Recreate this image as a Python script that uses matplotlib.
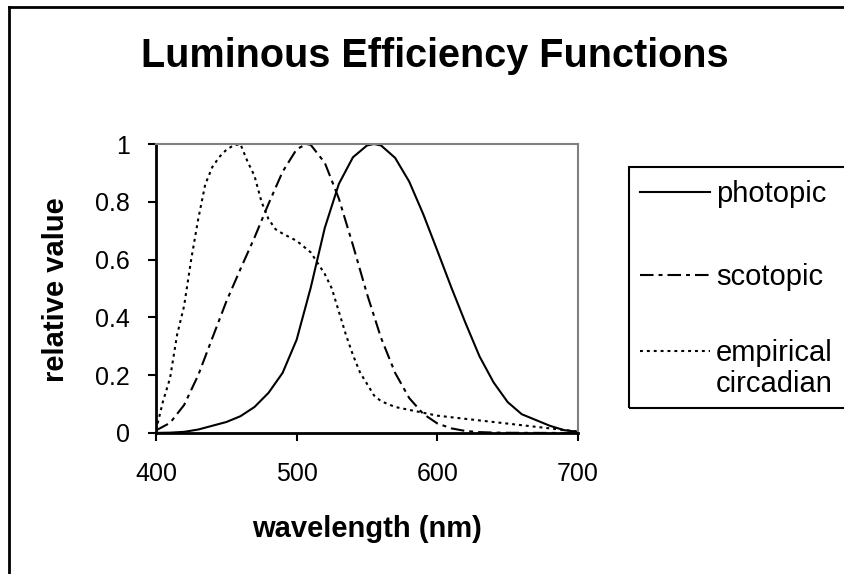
import matplotlib
matplotlib.use("Agg")
import matplotlib.pyplot as plt
from matplotlib.lines import Line2D
from matplotlib.patches import Rectangle

plt.rcParams['font.family'] = ['Liberation Sans', 'DejaVu Sans']

# photopic (CIE V(lambda))
photopic_nm = [400, 410, 420, 430, 440, 450, 460, 470, 480, 490, 500, 510, 520, 530,
               540, 550, 555, 560, 570, 580, 590, 600, 610, 620, 630, 640, 650, 660,
               670, 680, 690, 700]
photopic_val = [0.0004, 0.0012, 0.004, 0.012, 0.025, 0.038, 0.058, 0.09, 0.139, 0.208,
                0.323, 0.503, 0.71, 0.862, 0.954, 0.995, 1.0, 0.995, 0.952, 0.87,
                0.757, 0.631, 0.503, 0.381, 0.265, 0.175, 0.107, 0.065, 0.045, 0.025,
                0.01, 0.004]

# scotopic (CIE V'(lambda))
scotopic_nm = [400, 410, 420, 430, 440, 450, 460, 470, 480, 490, 500, 507, 510, 520,
               530, 540, 550, 560, 570, 580, 590, 600, 610, 620, 630, 640, 650, 700]
scotopic_val = [0.009, 0.035, 0.097, 0.2, 0.328, 0.455, 0.567, 0.676, 0.793, 0.904,
                0.982, 1.0, 0.997, 0.935, 0.811, 0.65, 0.481, 0.329, 0.208, 0.121,
                0.066, 0.033, 0.016, 0.007, 0.003, 0.0015, 0.0007, 0.0]

# empirical circadian
circ_nm = [400, 405, 410, 415, 420, 425, 430, 435, 440, 445, 450, 455, 460, 465, 470,
           475, 480, 485, 490, 500, 510, 520, 525, 530, 535, 540, 545, 550, 555, 560,
           570, 580, 590, 600, 700]
circ_val = [0.01, 0.11, 0.19, 0.34, 0.44, 0.6, 0.74, 0.86, 0.92, 0.955, 0.98, 0.995,
            1.0, 0.94, 0.89, 0.8, 0.74, 0.705, 0.69, 0.665, 0.625, 0.55, 0.5, 0.42,
            0.34, 0.27, 0.21, 0.17, 0.13, 0.11, 0.09, 0.08, 0.07, 0.06, 0.005]

x_ticks = [400, 500, 600, 700]
y_ticks = [0, 0.2, 0.4, 0.6, 0.8, 1.0]
y_tick_labels = ["0", "0.2", "0.4", "0.6", "0.8", "1"]
series_names = ["photopic", "scotopic", "empirical\ncircadian"]

W, H = 845, 574


def main():
    fig = plt.figure(figsize=(W / 100, H / 100), dpi=100)
    ax = fig.add_axes([156 / W, 1 - 433 / H, (578 - 156) / W, (433 - 144) / H])

    lw = 1.5
    styles = ["-", (0, (6.5, 2.4, 1.9, 2.4)), (0, (1.4, 1.9))]
    xs = [photopic_nm, scotopic_nm, circ_nm]
    ys = [photopic_val, scotopic_val, circ_val]
    for x, y, st in zip(xs, ys, styles):
        ax.plot(x, y, color="black", lw=lw, ls=st)

    ax.set_xlim(400, 700)
    ax.set_ylim(0, 1)
    ax.set_xticks(x_ticks)
    ax.set_yticks(y_ticks)
    ax.set_yticklabels(y_tick_labels)
    ax.tick_params(axis="both", direction="out", length=6, width=1.5,
                   labelsize=18, color="black")
    ax.tick_params(axis="y", pad=13)
    ax.tick_params(axis="x", pad=15)

    for s in ["left", "bottom"]:
        ax.spines[s].set_color("black")
        ax.spines[s].set_linewidth(2)
    for s in ["top", "right"]:
        ax.spines[s].set_color("#808080")
        ax.spines[s].set_linewidth(1.5)

    fig.text(435 / W, 1 - 56 / H, "Luminous Efficiency Functions", ha="center",
             va="center", fontsize=28.5, fontweight="bold")
    fig.text(367 / W, 1 - 529 / H, "wavelength (nm)", ha="center", va="center",
             fontsize=21, fontweight="bold")
    fig.text(56 / W, 1 - 290 / H, "relative value", ha="center", va="center",
             rotation=90, fontsize=21, fontweight="bold")

    # legend, drawn the way the spreadsheet lays it out
    fig.add_artist(Rectangle((629 / W, 1 - 408 / H), 300 / W, (408 - 167) / H,
                             transform=fig.transFigure, fill=False, lw=1.5,
                             edgecolor="black", clip_on=False))
    leg_y = [192, 275, 351]
    for name, st, yy in zip(series_names, styles, leg_y):
        fig.add_artist(Line2D([640 / W, 710 / W], [1 - yy / H, 1 - yy / H],
                              transform=fig.transFigure, color="black", lw=lw, ls=st))
        fig.text(716 / W, 1 - (yy - 12) / H, name, ha="left", va="top",
                 fontsize=21, linespacing=1.15)

    # chart area border (only left and top fall inside the image)
    fig.add_artist(Line2D([9 / W, 9 / W], [0, 1 - 7 / H], transform=fig.transFigure,
                          color="black", lw=2))
    fig.add_artist(Line2D([9 / W, 1], [1 - 7 / H, 1 - 7 / H], transform=fig.transFigure,
                          color="black", lw=2))

    fig.savefig("out.png", dpi=100)


if __name__ == "__main__":
    main()
